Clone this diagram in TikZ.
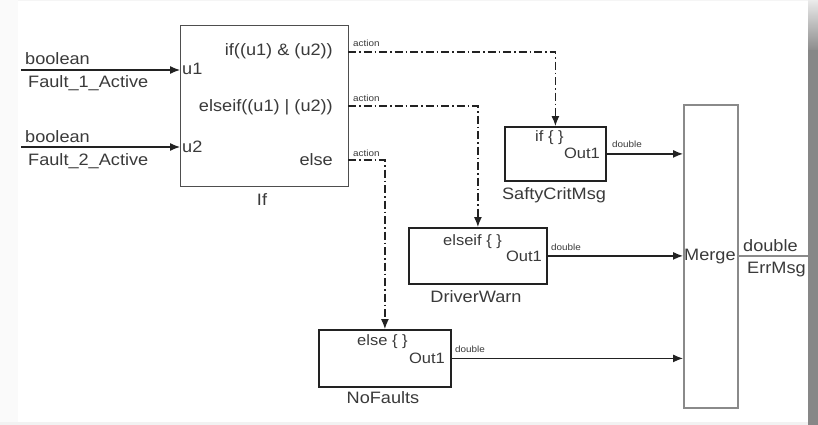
\documentclass[tikz,border=0pt]{standalone}
\usepackage{fontspec}
\setmainfont{Liberation Sans}
\usepackage{graphicx}
\usetikzlibrary{arrows.meta}
\definecolor{txt}{HTML}{3A3A3A}
\definecolor{blk}{HTML}{222222}
\definecolor{mrg}{HTML}{8A8A8A}
\newcommand{\bigt}[1]{\fontsize{16.5}{18}\selectfont\scalebox{1.1}[1]{#1}}
\newcommand{\midt}[1]{\fontsize{15}{17}\selectfont\scalebox{1.1}[1]{#1}}
\newcommand{\smt}[1]{\fontsize{9}{10}\selectfont\scalebox{1.1}[1]{#1}}
\tikzset{
  blockbox/.style={draw=blk, line width=1.8pt, anchor=north west, inner sep=0pt},
  ifbox/.style={draw=blk!80, line width=1.4pt, anchor=north west, inner sep=0pt},
  mergebox/.style={draw=mrg, line width=1.6pt, anchor=north west, inner sep=0pt},
  lbl/.style={text=txt, inner sep=0pt},
  sig/.style={draw=blk, line width=1.2pt, -{Latex[length=10pt,width=8pt]}},
  act/.style={draw=blk, line width=1.2pt, dash pattern=on 8pt off 3pt on 1.5pt off 3pt, -{Latex[length=10pt,width=8pt]}},
}
\begin{document}
\begin{tikzpicture}[x=1pt,y=-1pt]
% background and frame
\fill[white] (0,0) rectangle (818,425);
\useasboundingbox (0,0) rectangle (818,425);
\fill[black!4] (0,0) rectangle (818,1.5);
\fill[black!5] (0,422) rectangle (818,425);
\fill[black!2] (0,0) rectangle (18,422);
\shade[top color=black!8, bottom color=black!45] (808,0) rectangle (818,50);
\fill[black!47] (808,50) rectangle (818,425);

% blocks
\node[ifbox, minimum width=168pt, minimum height=161pt] (ifb) at (180,25) {};
\node[blockbox, minimum width=101pt, minimum height=54pt] (scm) at (504,126) {};
\node[blockbox, minimum width=138pt, minimum height=56pt] (dw) at (408,227) {};
\node[blockbox, minimum width=132pt, minimum height=57pt] (nf) at (318,329) {};
\node[mergebox, minimum width=54pt, minimum height=303pt] (mg) at (683,104) {};

% input coordinates
\coordinate (in1) at (21,70);
\coordinate (in2) at (21,147);
\draw[sig] (in1) -- (in1 -| ifb.west);
\draw[sig] (in2) -- (in2 -| ifb.west);

% input labels
\node[lbl, anchor=base west] (b1) at (25,65) {\bigt{boolean}};
\node[lbl, anchor=base west] (f1) at (28,88) {\bigt{Fault\_1\_Active}};
\node[lbl, anchor=base west] (b2) at (25,142) {\bigt{boolean}};
\node[lbl, anchor=base west] (f2) at (28,165) {\bigt{Fault\_2\_Active}};
\node[lbl, anchor=base west] (pu1) at (182,75) {\bigt{u1}};
\node[lbl, anchor=base west] (pu2) at (182,152) {\bigt{u2}};

% if block texts
\node[lbl, anchor=base east] (c1) at (333,56) {\bigt{if((u1) \& (u2))}};
\node[lbl, anchor=base east] (c2) at (333,111) {\bigt{elseif((u1) | (u2))}};
\node[lbl, anchor=base east] (c3) at (333,165) {\bigt{else}};
\node[lbl] (iflbl) at (262,200) {\bigt{If}};

% action outputs
\coordinate (o1) at (348,52);
\coordinate (o2) at (348,106);
\coordinate (o3) at (348,160);
\draw[act] (o1) -| (scm.north);
\draw[act] (o2) -| (dw.north);
\draw[act] (o3) -| (nf.north);
\node[lbl, anchor=base west] (a1) at (353,47) {\smt{action}};
\node[lbl, anchor=base west] (a2) at (353,102) {\smt{action}};
\node[lbl, anchor=base west] (a3) at (353,156) {\smt{action}};

% action subsystem texts
\node[lbl, anchor=base west] (t1) at (535,141) {\midt{if \{ \}}};
\node[lbl, anchor=base east] (u1o) at (600,158) {\midt{Out1}};
\node[lbl] (scml) at (554,195) {\bigt{SaftyCritMsg}};

\node[lbl, anchor=base west] (t2) at (443,245) {\midt{elseif \{ \}}};
\node[lbl, anchor=base east] (u2o) at (542,261) {\midt{Out1}};
\node[lbl] (dwl) at (476,297) {\bigt{DriverWarn}};

\node[lbl, anchor=base west] (t3) at (357,345) {\midt{else \{ \}}};
\node[lbl, anchor=base east] (u3o) at (445,363) {\midt{Out1}};
\node[lbl] (nfl) at (383,398) {\bigt{NoFaults}};

% to merge
\draw[sig] (scm.east) -- (scm.east -| mg.west);
\draw[sig] (dw.east) -- (dw.east -| mg.west);
\draw[sig] (nf.east) -- (nf.east -| mg.west);
\node[lbl, anchor=base west] (d1) at (612,147) {\smt{double}};
\node[lbl, anchor=base west] (d2) at (551,250) {\smt{double}};
\node[lbl, anchor=base west] (d3) at (455,352) {\smt{double}};

% merge
\node[lbl, anchor=base west] (ml) at (684,260) {\bigt{Merge}};
\coordinate (out) at (808,256);
\draw[draw=mrg, line width=1.4pt] (mg.east |- out) -- (out);
\node[lbl, anchor=base west] (dd) at (743,251) {\bigt{double}};
\node[lbl, anchor=base west] (em) at (747,273) {\bigt{ErrMsg}};
% right strip drawn over ErrMsg tail
\fill[black!47] (808,60) rectangle (818,425);
\end{tikzpicture}
\end{document}
